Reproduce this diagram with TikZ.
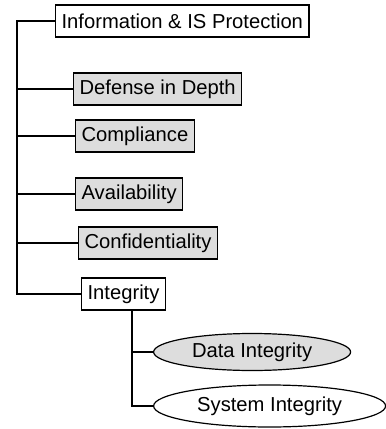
\documentclass[tikz,border=0pt]{standalone}
\usepackage{fontspec}
\setmainfont{Liberation Sans}
\usetikzlibrary{shapes.geometric}
\definecolor{boxgray}{RGB}{221,221,221}
\tikzset{
  topic/.style={
    draw=black,
    line width=0.6pt,
    anchor=west,
    minimum height=16pt,
    inner xsep=3pt,
    inner ysep=1pt,
    font=\fontsize{10.1}{11}\selectfont
  },
  shaded/.style={topic, fill=boxgray},
  leaf/.style={
    draw=black,
    ellipse,
    line width=0.6pt,
    anchor=west,
    inner sep=0pt,
    font=\fontsize{10.1}{11}\selectfont
  },
  link/.style={line width=0.6pt},
  trunk/.style={line width=1.1pt}
}

\begin{document}
\begin{tikzpicture}[x=0.5pt, y=-0.5pt]
  \useasboundingbox (0,0) rectangle (386,429);

  % -------------------------------------------------------------------
  % main tree
  % -------------------------------------------------------------------
  \node[topic] (root) at (55,21) {Information \& IS Protection};
  \node[shaded] (depth) at (73,89) {Defense in Depth};
  \node[shaded] (compl) at (75,136) {Compliance};
  \node[shaded] (avail) at (75,194) {Availability};
  \node[shaded] (confid) at (78,243) {Confidentiality};
  \node[topic] (integ) at (81,294) {Integrity};
  \coordinate (rootjoint) at (17,21);
  \draw[link] (rootjoint) |- (confid.west);
  \draw[link] (rootjoint) |- (integ.west);
  \draw[trunk] (root.west) -- (rootjoint) |- (depth.west);
  \draw[trunk] (rootjoint) |- (compl.west);
  \draw[trunk] (rootjoint) -- (17,194);
  \draw[link] (17,194) -- (avail.west);

  % -------------------------------------------------------------------
  % integrity subtree
  % -------------------------------------------------------------------
  \node[leaf, fill=boxgray, minimum width=98.5pt, minimum height=18.5pt] (datai) at (153,352) {Data Integrity};
  \node[leaf, minimum width=116pt, minimum height=21pt] (sysi) at (153,406) {System Integrity};
  \coordinate (integjoint) at (132,310);
  \draw[link] (integjoint) |- (datai.west);
  \draw[link] (integjoint) |- (sysi.west);

\end{tikzpicture}
\end{document}
